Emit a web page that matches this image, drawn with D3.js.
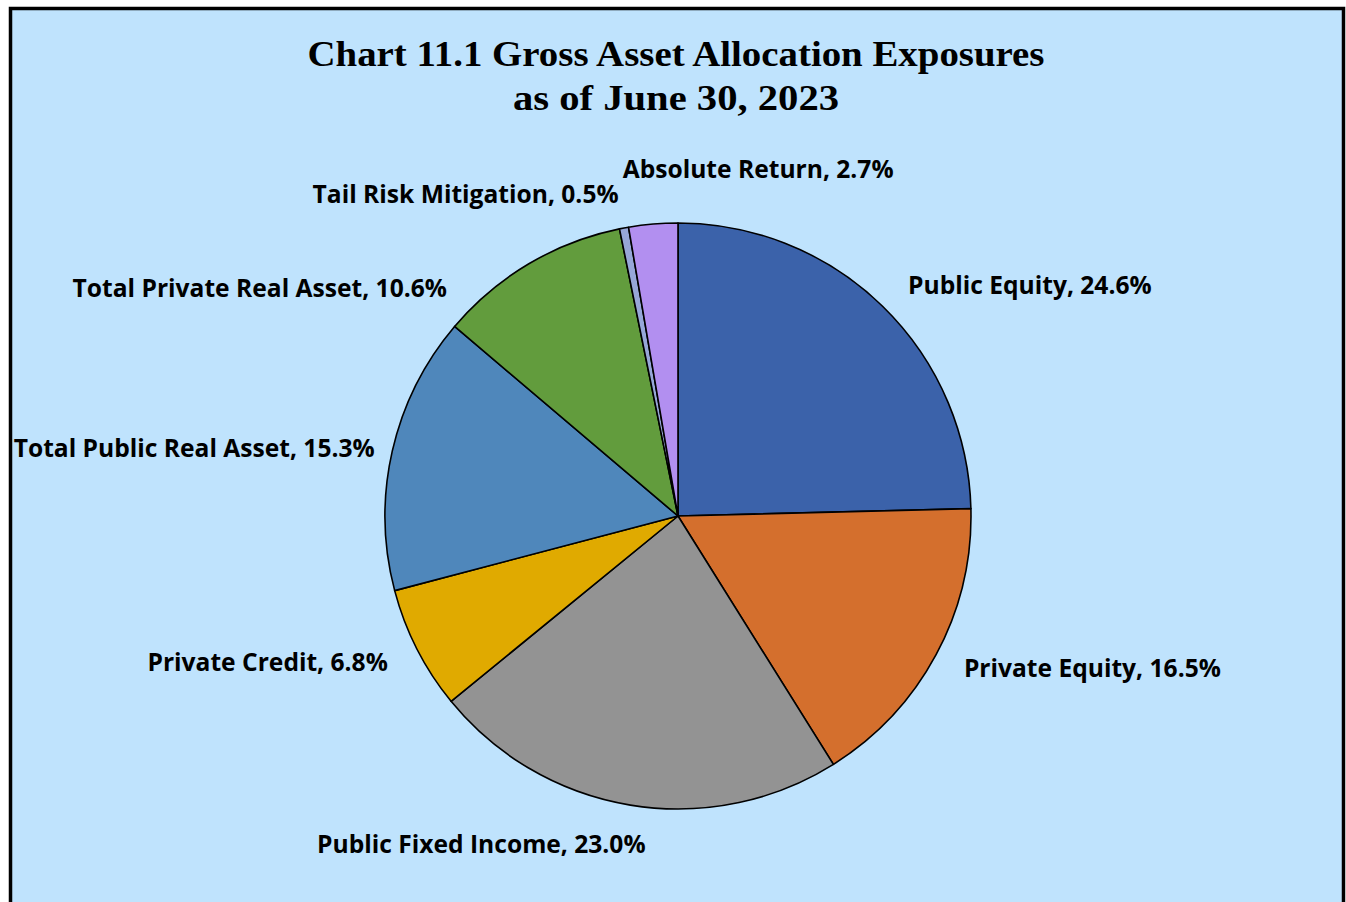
<!DOCTYPE html>
<html>
<head>
<meta charset="utf-8">
<script src="https://cdn.jsdelivr.net/npm/d3@7/dist/d3.min.js"></script>
<style>
  html, body { margin: 0; padding: 0; background: #ffffff; }
  svg { display: block; }
</style>
</head>
<body>
<div id="app"></div>
<script>
(function() {
  'use strict';

  // chart data
  var categories = ['Public Equity', 'Private Equity', 'Public Fixed Income', 'Private Credit',
    'Total Public Real Asset', 'Total Private Real Asset', 'Tail Risk Mitigation', 'Absolute Return'];
  var shares = [24.6, 16.5, 23.0, 6.8, 15.3, 10.6, 0.5, 2.7];
  var titleLines = ['Chart 11.1 Gross Asset Allocation Exposures', 'as of June 30, 2023'];

  var colors = ['#3b62aa', '#d46f2d', '#939393', '#e0aa00', '#4f87bb', '#629c3d', '#97a7d8', '#b28ff0'];
  // label nudges (px) from the outer arc point, plus text anchor
  var labelNudge = [
    [5, 0, 'start'], [2, 0, 'start'], [20, 10, 'end'], [-3, 0, 'end'],
    [11, 4, 'end'], [-67, 50, 'end'], [0, -5, 'end'], [-28, -25, 'start']
  ];

  var width = 1346, height = 902;
  var cx = 678, cy = 516, radius = 293;

  var svg = d3.select('#app').append('svg')
    .attr('width', width).attr('height', height);

  // frame
  svg.append('rect')
    .attr('x', 10.5).attr('y', 8.5)
    .attr('width', 1333).attr('height', 910)
    .attr('fill', '#bfe3fd')
    .attr('stroke', '#000').attr('stroke-width', 3.5);

  var title = svg.append('g').attr('class', 'title');
  title.selectAll('text').data(titleLines).enter().append('text')
    .attr('x', 676)
    .attr('y', function(d, i) { return 66 + i * 44; })
    .attr('text-anchor', 'middle')
    .attr('textLength', function(d, i) { return i === 0 ? 737 : 326; })
    .attr('lengthAdjust', 'spacingAndGlyphs')
    .style('font-family', '"Liberation Serif", "DejaVu Serif", serif')
    .style('font-weight', 'bold')
    .style('font-size', '35px')
    .style('fill', '#000')
    .text(function(d) { return d; });

  var pie = d3.pie().sort(null).value(function(d) { return d; });
  var arcs = pie(shares);

  var arc = d3.arc().innerRadius(0).outerRadius(radius);
  var outer = d3.arc().innerRadius(radius * 1.1).outerRadius(radius * 1.1);

  var g = svg.append('g').attr('transform', 'translate(' + cx + ',' + cy + ')');

  g.selectAll('path.slice').data(arcs).enter().append('path')
    .attr('class', 'slice')
    .attr('d', arc)
    .attr('fill', function(d, i) { return colors[i]; })
    .attr('stroke', '#000')
    .attr('stroke-width', 1.6)
    .attr('stroke-linejoin', 'round');

  g.selectAll('text.label').data(arcs).enter().append('text')
    .attr('class', 'label')
    .attr('transform', function(d, i) {
      var p = outer.centroid(d);
      return 'translate(' + (p[0] + labelNudge[i][0]) + ',' + (p[1] + labelNudge[i][1]) + ')';
    })
    .attr('dy', '0.35em')
    .attr('text-anchor', function(d, i) { return labelNudge[i][2]; })
    .style('font-family', '"Open Sans", Lato, sans-serif')
    .style('font-weight', 'bold')
    .style('font-size', '24.6px')
    .style('fill', '#000')
    .text(function(d, i) { return categories[i] + ', ' + shares[i].toFixed(1) + '%'; });
})();
</script>
</body>
</html>
